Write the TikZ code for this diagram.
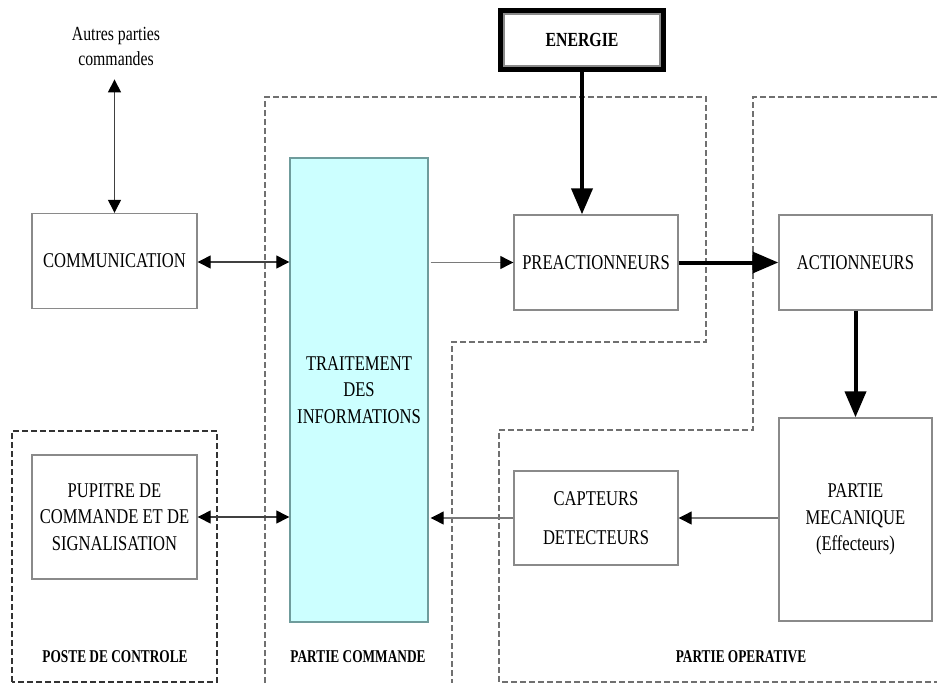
\documentclass[tikz,border=0pt]{standalone}
\usepackage{fontspec}
\setmainfont[FakeStretch=0.79]{Liberation Serif}
\usetikzlibrary{arrows.meta}

\definecolor{boxgray}{HTML}{8A8A8A}
\definecolor{linegray}{HTML}{7A7A7A}
\definecolor{dashgray}{HTML}{707070}
\definecolor{cyanfill}{HTML}{CCFFFF}
\definecolor{cyanedge}{HTML}{6F9C9C}

\tikzset{
  blockbox/.style={draw=boxgray, line width=1.4pt, inner sep=0pt, align=center,
    font=\fontsize{21}{26.5}\selectfont},
  thinflow/.style={draw=linegray, line width=1.2pt,
    -{Triangle[length=13pt,width=13pt,fill=black,color=black]}},
  thinboth/.style={draw=black!75, line width=1.3pt,
    {Triangle[length=13pt,width=13pt,fill=black,color=black]}-{Triangle[length=13pt,width=13pt,fill=black,color=black]}},
  powerflow/.style={draw=black, line width=4pt,
    -{Triangle[length=26pt,width=21pt]}},
  zone/.style={draw=dashgray, line width=1.2pt, dash pattern=on 6pt off 3pt},
  zonelabel/.style={font=\fontsize{18}{20}\selectfont\bfseries\addfontfeature{FakeStretch=0.74}, inner sep=0pt}
}

\begin{document}
\begin{tikzpicture}[x=1pt, y=-1pt]
  \useasboundingbox (0,0) rectangle (937,683);

  % dashed zones
  \draw[zone, line width=1.6pt, draw=black!80] (12,682) -- (12,431) -- (217,431) -- (217,682) -- cycle;
  \draw[zone] (265,683) -- (265,97) -- (706,97) -- (706,342) -- (452,342) -- (452,683);
  \draw[zone] (937,97) -- (753,97) -- (753,430) -- (499,430) -- (499,682) -- (937,682);

  % blocks
  \node[align=center, inner sep=0pt, font=\fontsize{20}{25}\selectfont] (autres) at (116,46)
    {Autres parties\\commandes};
  \node[blockbox, minimum width=165pt, minimum height=95pt] (comm) at (114.5,261) {COMMUNICATION};
  \node[blockbox, draw=cyanedge, fill=cyanfill, minimum width=138pt, minimum height=464pt] (trait) at (359,390)
    {TRAITEMENT\\DES\\INFORMATIONS};
  \node[blockbox, minimum width=165pt, minimum height=124pt] (pup) at (114.5,517)
    {PUPITRE DE\\COMMANDE ET DE\\SIGNALISATION};
  \node[blockbox, minimum width=164pt, minimum height=95pt] (pre) at (596,262.5) {PREACTIONNEURS};
  \node[blockbox, minimum width=153pt, minimum height=95pt] (act) at (855.5,262.5) {ACTIONNEURS};
  \node[blockbox, minimum width=153pt, minimum height=203pt] (meca) at (855.5,519.5)
    {PARTIE\\MECANIQUE\\(Effecteurs)};
  \node[blockbox, minimum width=164pt, minimum height=94pt] (capt) at (596,518)
    {CAPTEURS\\[12pt]DETECTEURS};

  % energy source with double frame
  \node[draw=black, line width=5pt, minimum width=163pt, minimum height=59pt, inner sep=0pt,
        font=\fontsize{20}{24}\selectfont\bfseries] (energie) at (582,40) {ENERGIE};
  \draw[boxgray, line width=1.3pt] ([shift={(6pt,-6pt)}]energie.north west) rectangle ([shift={(-6pt,6pt)}]energie.south east);

  % zone labels
  \node[zonelabel] (lposte) at (115,657) {POSTE DE CONTROLE};
  \node[zonelabel] (lcom) at (358,657) {PARTIE COMMANDE};
  \node[zonelabel] (lop) at (741,657) {PARTIE OPERATIVE};

  % information flows
  \draw[thinboth, shorten <=14pt] (autres.south -| comm.north) -- (comm.north);
  \draw[thinboth] (comm.east |- 0,262) -- (trait.west |- 0,262);
  \draw[thinboth] (pup.east) -- (pup.east -| trait.west);
  \draw[thinflow, shorten <=2pt] (trait.east |- pre.west) -- (pre.west);
  \draw[thinflow] (meca.west |- capt.east) -- (capt.east);
  \draw[thinflow, shorten >=2pt] (capt.west) -- (capt.west -| trait.east);

  % power flows
  \draw[powerflow] (energie.south) -- (energie.south |- pre.north);
  \draw[powerflow] (pre.east) -- (act.west);
  \draw[powerflow] (act.south) -- (meca.north);
\end{tikzpicture}
\end{document}
